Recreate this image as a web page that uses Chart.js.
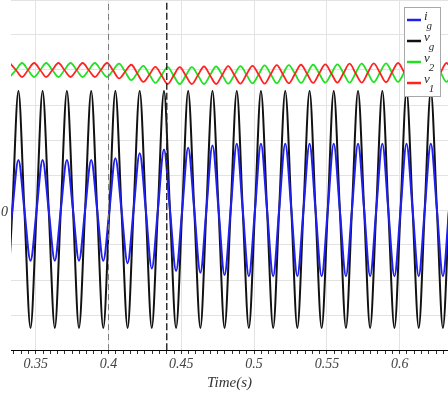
<!DOCTYPE html>
<html>
<head>
<meta charset="utf-8">
<title>Grid voltage and current</title>
<script src="https://cdn.jsdelivr.net/npm/chart.js@4.4.1/dist/chart.umd.min.js"></script>
<style>
  html, body { margin: 0; padding: 0; background: #fff; }
  #chart { display: block; }
</style>
</head>
<body>
<canvas id="chart" width="448" height="393"></canvas>
<script>
// Sample times (quarter period of 60 Hz) for i_g and v_g
const timeA = [
  0.3297, 0.3339, 0.3381, 0.3422, 0.3464, 0.3506, 0.3547, 0.3589,
  0.3631, 0.3672, 0.3714, 0.3756, 0.3797, 0.3839, 0.3881, 0.3922,
  0.3964, 0.4006, 0.4047, 0.4089, 0.4131, 0.4172, 0.4214, 0.4256,
  0.4297, 0.4339, 0.4381, 0.4422, 0.4464, 0.4506, 0.4547, 0.4589,
  0.4631, 0.4672, 0.4714, 0.4756, 0.4797, 0.4839, 0.4881, 0.4922,
  0.4964, 0.5006, 0.5047, 0.5089, 0.5131, 0.5172, 0.5214, 0.5256,
  0.5297, 0.5339, 0.5381, 0.5422, 0.5464, 0.5506, 0.5547, 0.5589,
  0.5631, 0.5672, 0.5714, 0.5756, 0.5797, 0.5839, 0.5881, 0.5922,
  0.5964, 0.6006, 0.6047, 0.6089, 0.6131, 0.6172, 0.6214, 0.6256,
  0.6297, 0.6339, 0.6381
];

const vg = [
  -3.37, 0, 3.40, 0, -3.37, 0, 3.40, 0, -3.37, 0, 3.40, 0, -3.37, 0, 3.40, 0,
  -3.37, 0, 3.40, 0, -3.37, 0, 3.40, 0, -3.37, 0, 3.40, 0, -3.37, 0, 3.40, 0,
  -3.37, 0, 3.40, 0, -3.37, 0, 3.40, 0, -3.37, 0, 3.40, 0, -3.37, 0, 3.40, 0,
  -3.37, 0, 3.40, 0, -3.37, 0, 3.40, 0, -3.37, 0, 3.40, 0, -3.37, 0, 3.40, 0,
  -3.37, 0, 3.40, 0, -3.37, 0, 3.40, 0, -3.37, 0, 3.40
];

const ig = [
  -1.45, 0, 1.43, 0, -1.45, 0, 1.43, 0, -1.45, 0, 1.43, 0, -1.45, 0, 1.43, 0,
  -1.45, 0, 1.48, 0, -1.52, 0, 1.62, 0, -1.67, 0, 1.73, 0, -1.74, 0, 1.78, 0,
  -1.79, 0, 1.84, 0, -1.86, 0, 1.89, 0, -1.89, 0, 1.89, 0, -1.89, 0, 1.89, 0,
  -1.89, 0, 1.89, 0, -1.89, 0, 1.89, 0, -1.89, 0, 1.89, 0, -1.89, 0, 1.89, 0,
  -1.89, 0, 1.89, 0, -1.89, 0, 1.89, 0, -1.89, 0, 1.89
];

// Sample times for v_1 and v_2 (same frequency, shifted phase)
const timeB = [
  0.3322, 0.3364, 0.3406, 0.3447, 0.3489, 0.3531, 0.3572, 0.3614,
  0.3656, 0.3697, 0.3739, 0.3781, 0.3822, 0.3864, 0.3906, 0.3947,
  0.3989, 0.4031, 0.4072, 0.4114, 0.4156, 0.4197, 0.4239, 0.4281,
  0.4322, 0.4364, 0.4406, 0.4447, 0.4489, 0.4531, 0.4572, 0.4614,
  0.4656, 0.4697, 0.4739, 0.4781, 0.4822, 0.4864, 0.4906, 0.4947,
  0.4989, 0.5031, 0.5072, 0.5114, 0.5156, 0.5197, 0.5239, 0.5281,
  0.5322, 0.5364, 0.5406, 0.5447, 0.5489, 0.5531, 0.5572, 0.5614,
  0.5656, 0.5697, 0.5739, 0.5781, 0.5822, 0.5864, 0.5906, 0.5947,
  0.5989, 0.6031, 0.6072, 0.6114, 0.6156, 0.6197, 0.6239, 0.6281,
  0.6322, 0.6364
];

const v1 = [
  4.20, 4.00, 3.80, 4.00, 4.20, 4.00, 3.80, 4.00,
  4.20, 4.00, 3.80, 4.00, 4.20, 4.00, 3.80, 4.00,
  4.20, 3.99, 3.76, 3.95, 4.15, 3.91, 3.66, 3.87,
  4.09, 3.85, 3.60, 3.84, 4.08, 3.84, 3.60, 3.85,
  4.10, 3.85, 3.60, 3.86, 4.11, 3.86, 3.61, 3.87,
  4.12, 3.87, 3.61, 3.88, 4.14, 3.88, 3.62, 3.89,
  4.15, 3.89, 3.63, 3.90, 4.16, 3.90, 3.64, 3.91,
  4.18, 3.91, 3.64, 3.92, 4.19, 3.92, 3.65, 3.93,
  4.20, 3.93, 3.66, 3.93, 4.20, 3.93, 3.66, 3.93,
  4.20, 3.93
];

const v2 = [
  3.80, 4.00, 4.20, 4.00, 3.80, 4.00, 4.20, 4.00,
  3.80, 4.00, 4.20, 4.00, 3.80, 4.00, 4.20, 4.00,
  3.80, 3.99, 4.18, 3.95, 3.71, 3.91, 4.12, 3.87,
  3.63, 3.85, 4.08, 3.84, 3.60, 3.84, 4.08, 3.85,
  3.60, 3.85, 4.10, 3.86, 3.61, 3.86, 4.11, 3.87,
  3.62, 3.87, 4.13, 3.88, 3.62, 3.88, 4.14, 3.89,
  3.63, 3.89, 4.15, 3.90, 3.64, 3.90, 4.16, 3.91,
  3.64, 3.91, 4.18, 3.92, 3.65, 3.92, 4.19, 3.93,
  3.66, 3.93, 4.20, 3.93, 3.66, 3.93, 4.20, 3.93,
  3.66, 3.93
];

// Dashed event markers and labelled x ticks
const markerTimes = [0.4, 0.44];
const xMajorTicks = [0.35, 0.4, 0.45, 0.5, 0.55, 0.6];
const yZeroLabel = '0';

// Legend entries: [symbol, subscript]
const legendNames = [['i', 'g'], ['v', 'g'], ['v', '2'], ['v', '1']];
const legendColors = ['#1f1fef', '#111111', '#22e022', '#ff2222'];

const SERIF = '"Liberation Serif", "Times New Roman", serif';

function toPoints(times, values) {
    return values.map((v, i) => ({ x: times[i], y: v }));
}

function isMajor(value) {
    return xMajorTicks.some(t => Math.abs(t - value) < 1e-6);
}

// Legend box drawn inside the plot, top right
const legendBoxPlugin = {
    id: 'legendBox',
    afterDraw(chart) {
        const ctx = chart.ctx;
        const box = { x: 404.5, y: 7.5, w: 36, h: 89 };
        ctx.save();
        ctx.fillStyle = '#ffffff';
        ctx.fillRect(box.x, box.y, box.w, box.h);
        ctx.strokeStyle = '#a8a8a8';
        ctx.lineWidth = 1;
        ctx.strokeRect(box.x, box.y, box.w, box.h);

        const rows = [20, 41, 62, 83];
        legendNames.forEach((name, i) => {
            const y = rows[i];
            ctx.strokeStyle = legendColors[i];
            ctx.lineWidth = 2.5;
            ctx.beginPath();
            ctx.moveTo(407, y);
            ctx.lineTo(421, y);
            ctx.stroke();

            ctx.fillStyle = '#2a2a2a';
            ctx.textAlign = 'left';
            ctx.textBaseline = 'alphabetic';
            ctx.font = 'italic 13px ' + SERIF;
            ctx.fillText(name[0], 424, y);
            const w = ctx.measureText(name[0]).width;
            ctx.font = 'italic 11px ' + SERIF;
            ctx.fillText(name[1], 424 + w - 1, y + 9);
        });
        ctx.restore();
    }
};

// Only the zero level carries a label on the y axis
const zeroLabelPlugin = {
    id: 'zeroLabel',
    afterDraw(chart) {
        const ctx = chart.ctx;
        const y = chart.scales.y.getPixelForValue(0);
        ctx.save();
        ctx.fillStyle = '#3a3a3a';
        ctx.font = 'italic 14px ' + SERIF;
        ctx.textAlign = 'right';
        ctx.textBaseline = 'middle';
        ctx.fillText(yZeroLabel, 8, y + 2);
        ctx.restore();
    }
};

function markerDataset(t, color, width, dash, order) {
    return {
        data: [{ x: t, y: -4 }, { x: t, y: 6 }],
        borderColor: color,
        borderWidth: width,
        borderDash: dash,
        tension: 0,
        order: order
    };
}

function createChart() {
    const ctx = document.getElementById('chart').getContext('2d');

    const datasets = [
        markerDataset(markerTimes[1], '#222', 1.4, [7, 3], 0),
        markerDataset(markerTimes[0], '#777', 1, [6, 4], 1),
        { label: 'v1', data: toPoints(timeB, v1), borderColor: legendColors[3], borderWidth: 1.8, order: 2 },
        { label: 'v2', data: toPoints(timeB, v2), borderColor: legendColors[2], borderWidth: 1.8, order: 3 },
        { label: 'ig', data: toPoints(timeA, ig), borderColor: legendColors[0], borderWidth: 2, order: 4 },
        { label: 'vg', data: toPoints(timeA, vg), borderColor: legendColors[1], borderWidth: 2, order: 5 }
    ];

    return new Chart(ctx, {
        type: 'line',
        data: { datasets: datasets },
        options: {
            responsive: false,
            animation: false,
            devicePixelRatio: 1,
            layout: { padding: 0 },
            elements: {
                point: { radius: 0 },
                line: { cubicInterpolationMode: 'monotone', fill: false }
            },
            plugins: {
                legend: { display: false },
                tooltip: { enabled: false }
            },
            scales: {
                x: {
                    type: 'linear',
                    min: 0.333,
                    max: 0.6332,
                    afterFit(scale) { scale.height = 43; },
                    border: { display: true, color: '#000', width: 1 },
                    grid: {
                        color: c => isMajor(c.tick.value) ? '#e3e3e3' : 'rgba(0,0,0,0)',
                        tickColor: '#333',
                        tickLength: 4,
                        drawTicks: true
                    },
                    ticks: {
                        stepSize: 0.005,
                        includeBounds: false,
                        autoSkip: false,
                        maxRotation: 0,
                        minRotation: 0,
                        padding: 2,
                        color: '#444',
                        font: { family: SERIF, style: 'italic', size: 14 },
                        callback: v => isMajor(v) ? String(xMajorTicks.find(t => Math.abs(t - v) < 1e-6)) : ''
                    },
                    title: {
                        display: true,
                        text: 'Time(s)',
                        color: '#333',
                        font: { family: SERIF, style: 'italic', size: 15 },
                        padding: { top: 0, bottom: 1 }
                    }
                },
                y: {
                    type: 'linear',
                    min: -4,
                    max: 6,
                    afterFit(scale) { scale.width = 11; },
                    border: { display: false },
                    grid: { color: '#e3e3e3', drawTicks: false },
                    ticks: { stepSize: 1, display: false }
                }
            }
        },
        plugins: [legendBoxPlugin, zeroLabelPlugin]
    });
}

createChart();
</script>
</body>
</html>
